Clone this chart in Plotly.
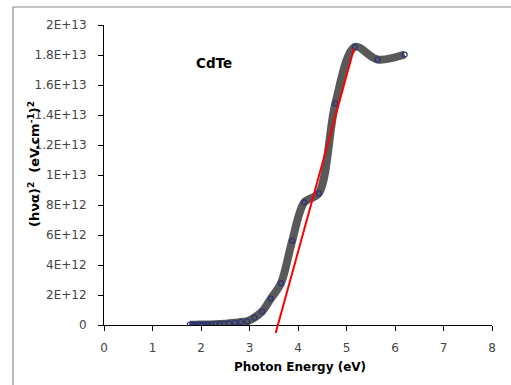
import plotly.graph_objects as go

# Photon energy (eV) and (h nu alpha)^2 values
energy = [1.77, 1.82, 1.88, 1.94, 2.00, 2.07, 2.14, 2.21, 2.30, 2.38, 2.48,
          2.58, 2.70, 2.82, 2.95, 3.10, 3.26, 3.44, 3.65, 3.88, 4.13, 4.43,
          4.77, 5.17, 5.64, 6.20]
hva2 = [0.02e12, 0.02e12, 0.02e12, 0.03e12, 0.03e12, 0.03e12, 0.04e12,
        0.04e12, 0.05e12, 0.06e12, 0.08e12, 0.11e12, 0.15e12, 0.20e12,
        0.24e12, 0.49e12, 0.90e12, 1.76e12, 2.79e12, 5.61e12, 8.18e12,
        8.78e12, 14.77e12, 18.54e12, 17.70e12, 18.03e12]

# Linear fit (tangent) line endpoints
fit_x = [3.54, 5.155]
fit_y = [-0.53e12, 18.43e12]

x_ticks = [0, 1, 2, 3, 4, 5, 6, 7, 8]
y_ticks = [0, 2e12, 4e12, 6e12, 8e12, 1e13, 1.2e13, 1.4e13, 1.6e13, 1.8e13, 2e13]
y_ticktext = ["0", "2E+12", "4E+12", "6E+12", "8E+12", "1E+13", "1.2E+13",
              "1.4E+13", "1.6E+13", "1.8E+13", "2E+13"]

FONT = "DejaVu Sans, Verdana, sans-serif"
W, H = 511, 385
ML, MR, MT, MB = 104, 19, 25, 48
plot_w = W - ML - MR
plot_h = H - MT - MB
ext_px = 12  # extra px below the zero line for the fit line
y_main_bottom = ext_px / plot_h
ymax = 2e13
main_px = plot_h - ext_px
y2_min = -ext_px * ymax / main_px

fig = go.Figure()

fig.add_trace(go.Scatter(
    x=energy, y=hva2, mode="lines",
    line=dict(color="#595959", width=8, shape="spline", smoothing=0.9),
    hoverinfo="skip", showlegend=False, xaxis="x", yaxis="y"))
fig.add_trace(go.Scatter(
    x=energy, y=hva2, mode="markers",
    marker=dict(symbol="circle-open", size=5, color="#26307a",
                line=dict(width=1.2, color="#26307a")),
    showlegend=False, xaxis="x", yaxis="y"))
fig.add_trace(go.Scatter(
    x=fit_x, y=fit_y, mode="lines",
    line=dict(color="#ff0000", width=2),
    showlegend=False, xaxis="x2", yaxis="y2"))

axis_font = dict(family=FONT, size=12, color="#444444")

fig.update_layout(
    width=W, height=H,
    margin=dict(l=ML, r=MR, t=MT, b=MB, pad=0, autoexpand=False),
    paper_bgcolor="white", plot_bgcolor="rgba(0,0,0,0)",
    showlegend=False,
    xaxis=dict(domain=[0, 1], range=[0, 8], tickvals=x_ticks,
               showgrid=False, zeroline=False, showline=True,
               linecolor="black", linewidth=1, ticks="outside", ticklen=5,
               tickcolor="black", tickfont=axis_font, ticklabelstandoff=7,
               anchor="y", fixedrange=True, automargin=False),
    yaxis=dict(domain=[y_main_bottom, 1], range=[0, ymax], tickvals=y_ticks,
               ticktext=y_ticktext, showgrid=False, zeroline=False,
               showline=True, linecolor="black", linewidth=1,
               ticks="outside", ticklen=5, tickcolor="black",
               tickfont=axis_font, ticklabelstandoff=9, anchor="x",
               fixedrange=True, automargin=False),
    xaxis2=dict(domain=[0, 1], range=[0, 8], visible=False, anchor="y2"),
    yaxis2=dict(domain=[0, 1], range=[y2_min, ymax], visible=False,
                anchor="x2"),
    annotations=[
        dict(text="<b>CdTe</b>", x=2.27, y=1.745e13, xref="x", yref="y",
             showarrow=False, font=dict(family=FONT, size=13.5, color="black"),
             xanchor="center", yanchor="middle"),
        dict(text="<b>Photon Energy (eV)</b>", x=0.506,
             y=(plot_h - (367 - MT)) / plot_h,
             xref="paper", yref="paper", showarrow=False,
             font=dict(family=FONT, size=12, color="black"),
             xanchor="center", yanchor="middle"),
        dict(text="<b>(hνα)<sup>2</sup>  (eV.cm<sup>-1</sup>)<sup>2</sup></b>",
             x=(34 - ML) / plot_w, y=(plot_h - (164 - MT)) / plot_h,
             xref="paper", yref="paper", showarrow=False, textangle=-90,
             font=dict(family=FONT, size=13, color="black"),
             xanchor="center", yanchor="middle"),
    ],
    shapes=[
        dict(type="rect", xref="paper", yref="paper",
             x0=(13 - ML) / plot_w, x1=1.3,
             y0=-0.5, y1=(plot_h - (7 - MT)) / plot_h,
             line=dict(color="#8c8c8c", width=1.2), fillcolor="rgba(0,0,0,0)",
             layer="below"),
    ],
)

fig.write_html("out.html", config={"displayModeBar": False},
               post_script="document.body.style.margin='0';document.body.style.overflow='hidden';")
